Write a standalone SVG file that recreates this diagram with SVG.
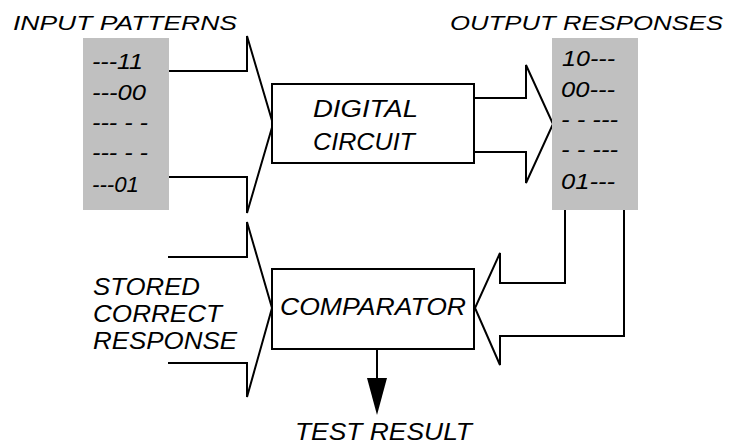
<svg xmlns="http://www.w3.org/2000/svg" width="729" height="444" viewBox="0 0 729 444">
<style>
text{font-family:"Liberation Sans",Arial,sans-serif;font-style:italic;font-size:23px;fill:#000}
.ttl{font-size:21px}
.p{font-size:22px}
.pat{fill:#c0c0c0;stroke:none}
.box{fill:#fff;stroke:#000;stroke-width:2}
.arr{fill:#fff;stroke:#000;stroke-width:2;stroke-linejoin:miter}
.ln{fill:none;stroke:#000;stroke-width:2}
</style>
<rect width="729" height="444" fill="#fff"/>
<g id="connectors">
<path class="arr" d="M169,71 H247 V36 L273,124 L247,213 V177 H169"/>
<path class="arr" d="M474,98 H526 V65 L553,124 L526,183 V152 H474"/>
<path class="arr" d="M168,257 H247 V222 L272,308 L247,397 V363 H168"/>
<path class="arr" d="M565,210 V283 H500 V253 L475,308 L500,365 V336 H624 V210"/>
<line class="ln" x1="377" y1="349" x2="377" y2="380"/>
<polygon points="367,378 387,378 377,415" fill="#000"/>
</g>
<g id="input-patterns">
<text class="ttl" x="13" y="30" textLength="224" lengthAdjust="spacingAndGlyphs">INPUT PATTERNS</text>
<rect class="pat" x="83" y="38" width="86" height="172"/>
<text class="p" x="92" y="69" textLength="51" lengthAdjust="spacingAndGlyphs">---11</text>
<text class="p" x="92" y="100" textLength="54" lengthAdjust="spacingAndGlyphs">---00</text>
<text class="p" x="92" y="130" textLength="56" lengthAdjust="spacingAndGlyphs">--- - -</text>
<text class="p" x="92" y="160" textLength="56" lengthAdjust="spacingAndGlyphs">--- - -</text>
<text class="p" x="92" y="192" textLength="47" lengthAdjust="spacingAndGlyphs">---01</text>
</g>
<g id="digital-circuit">
<rect class="box" x="272" y="84" width="202" height="79"/>
<text x="313" y="117" textLength="105" lengthAdjust="spacingAndGlyphs">DIGITAL</text>
<text x="313" y="150" textLength="102" lengthAdjust="spacingAndGlyphs">CIRCUIT</text>
</g>
<g id="output-responses">
<text class="ttl" x="450" y="30" textLength="273" lengthAdjust="spacingAndGlyphs">OUTPUT RESPONSES</text>
<rect class="pat" x="552" y="38" width="86" height="172"/>
<text class="p" x="562" y="66" textLength="53" lengthAdjust="spacingAndGlyphs">10---</text>
<text class="p" x="561" y="97" textLength="54" lengthAdjust="spacingAndGlyphs">00---</text>
<text class="p" x="561" y="127" textLength="57" lengthAdjust="spacingAndGlyphs">- - ---</text>
<text class="p" x="561" y="157" textLength="57" lengthAdjust="spacingAndGlyphs">- - ---</text>
<text class="p" x="561" y="189" textLength="54" lengthAdjust="spacingAndGlyphs">01---</text>
</g>
<g id="comparator">
<rect class="box" x="272" y="269" width="202" height="80"/>
<text x="280" y="315" textLength="186" lengthAdjust="spacingAndGlyphs">COMPARATOR</text>
</g>
<g id="stored-correct-response">
<text x="93" y="295" textLength="107" lengthAdjust="spacingAndGlyphs">STORED</text>
<text x="93" y="322" textLength="129" lengthAdjust="spacingAndGlyphs">CORRECT</text>
<text x="93" y="349" textLength="144" lengthAdjust="spacingAndGlyphs">RESPONSE</text>
</g>
<g id="test-result">
<text x="295" y="440" textLength="177" lengthAdjust="spacingAndGlyphs">TEST RESULT</text>
</g>
</svg>
